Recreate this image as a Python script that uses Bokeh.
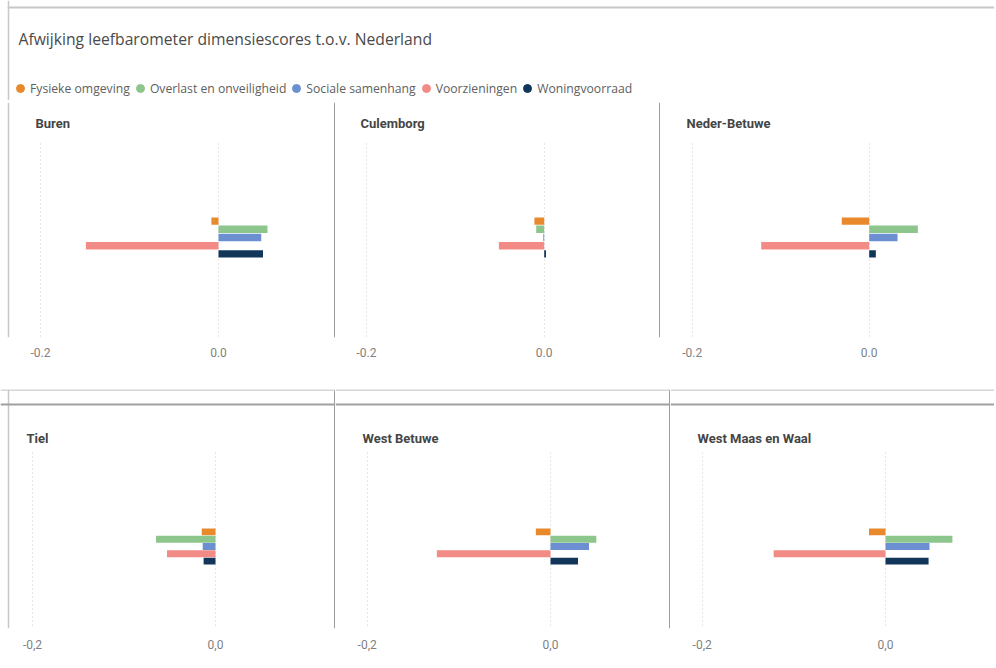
from bokeh.plotting import figure
from bokeh.models import (Range1d, FixedTicker, Span, Label, Legend, LegendItem,
                          ColumnDataSource, Grid, BoxAnnotation)
from bokeh.layouts import column, row
from bokeh.embed import file_html
from bokeh.resources import INLINE

# ---------------- data ----------------
TITLE = "Afwijking leefbarometer dimensiescores t.o.v. Nederland"
REGIONS = ["Buren", "Culemborg", "Neder-Betuwe", "Tiel", "West Betuwe", "West Maas en Waal"]
SERIES = ["Fysieke omgeving", "Overlast en onveiligheid", "Sociale samenhang",
          "Voorzieningen", "Woningvoorraad"]
COLORS = ["#E8892B", "#8DC68D", "#6B8FD1", "#F28B85", "#12365A"]

FYSIEKE_OMGEVING = [-0.008, -0.011, -0.031, -0.015, -0.016, -0.018]
OVERLAST_EN_ONVEILIGHEID = [0.055, -0.009, 0.055, -0.065, 0.050, 0.073]
SOCIALE_SAMENHANG = [0.048, -0.001, 0.032, -0.014, 0.042, 0.048]
VOORZIENINGEN = [-0.149, -0.051, -0.122, -0.053, -0.124, -0.122]
WONINGVOORRAAD = [0.050, 0.002, 0.0075, -0.013, 0.030, 0.047]
VALUES = [FYSIEKE_OMGEVING, OVERLAST_EN_ONVEILIGHEID, SOCIALE_SAMENHANG,
          VOORZIENINGEN, WONINGVOORRAAD]

TICKS = [-0.2, 0.0]
TICK_LABELS_TOP = ["-0.2", "0.0"]
TICK_LABELS_BOTTOM = ["-0,2", "0,0"]

# ---------------- styling ----------------
W = 994
HEADER_H = 100
BORDER = "#c8c8c8"
DIVIDER = "#3a3a3a"
PANEL_FONT = "Roboto"
MID = (len(SERIES) - 1) / 2.0
HAS_CROSS = "cross_bounds" in Grid.properties()


def make_panel(i, left, width, top, height, f_top, f_bot, m02, zero, center, u,
               bar_h, tick_labels, title_x, title_y, grid_top, standoff,
               divider_x=None, left_border=None, hlines=()):
    scale = (zero - m02) / 0.2
    xs = -(zero - left) / scale
    xe = xs + width / scale

    def xd(px):
        return xs + (px - left) / scale

    def yd(py):
        return MID + (py - center) / u

    p = figure(width=width, height=height, x_range=Range1d(xs, xe),
               y_range=Range1d(yd(f_bot), yd(f_top)),
               output_backend="svg", toolbar_location=None, y_axis_location=None,
               min_border_left=0, min_border_right=0,
               min_border_top=f_top - top, min_border_bottom=top + height - f_bot,
               outline_line_color=None, background_fill_color="white",
               border_fill_color="white")
    ticker = FixedTicker(ticks=TICKS)
    ax = p.xaxis[0]
    ax.ticker = ticker
    ax.major_label_overrides = dict(zip(TICKS, tick_labels))
    ax.axis_line_color = None
    ax.major_tick_line_color = None
    ax.minor_tick_line_color = None
    ax.major_label_standoff = standoff
    ax.major_label_text_font = PANEL_FONT
    ax.major_label_text_font_size = "12px"
    ax.major_label_text_color = "#7f7f7f"
    p.ygrid.visible = False
    g = p.xgrid[0]
    g.ticker = ticker
    g.grid_line_color = "#cfcfcf"
    g.grid_line_dash = "1 3"
    g.grid_line_width = 1
    if HAS_CROSS:
        g.cross_bounds = (min(yd(grid_top), yd(f_bot)), max(yd(grid_top), yd(f_bot)))

    src = ColumnDataSource(dict(
        y=list(range(len(SERIES))),
        right=[v[i] for v in VALUES],
        color=COLORS,
        series=SERIES,
    ))
    p.hbar(y="y", left=0, right="right", height=bar_h, fill_color="color",
           line_color=None, source=src)

    p.add_layout(Label(x=xd(title_x), y=yd(title_y), text=REGIONS[i],
                       text_font=PANEL_FONT, text_font_style="bold",
                       text_font_size="13px", text_color="#454545",
                       text_baseline="middle", text_align="left"))
    if divider_x is not None:
        p.add_layout(Span(location=xd(divider_x), dimension="height",
                          line_color=DIVIDER, line_width=1))
    if left_border is not None:
        p.add_layout(Span(location=xd(left_border), dimension="height",
                          line_color=BORDER, line_width=1.5))
    for (py, col, lw) in hlines:
        p.add_layout(Span(location=yd(py), dimension="width",
                          line_color=col, line_width=lw))
    return p


# ---------------- header ----------------
header = figure(width=W, height=HEADER_H, x_range=Range1d(0, W),
                y_range=Range1d(HEADER_H, 0), output_backend="svg",
                toolbar_location=None, x_axis_location=None, y_axis_location=None,
                min_border=0, outline_line_color=None,
                background_fill_color="white", border_fill_color="white")
header.xgrid.visible = False
header.ygrid.visible = False
header.add_layout(Label(x=18, y=38, text=TITLE, text_font="Open Sans",
                        text_font_size="15.7px", text_color="#4a4a4a",
                        text_baseline="middle"))
header.add_layout(BoxAnnotation(left=7.25, right=W, top=6, bottom=8, fill_color=BORDER,
                                fill_alpha=1, line_color=None))
header.add_layout(Span(location=8, dimension="height", line_color=BORDER, line_width=1.5))

items = []
for name, col in zip(SERIES, COLORS):
    r = header.scatter(x=[float("nan")], y=[float("nan")], marker="circle", size=8,
                       fill_color=col, line_color=col)
    items.append(LegendItem(label=name, renderers=[r]))
legend = Legend(items=items, orientation="horizontal", location=(10, 2),
                glyph_width=20, glyph_height=20, label_standoff=0, spacing=0,
                padding=0, margin=0, border_line_color=None,
                background_fill_alpha=0, label_text_font="Open Sans",
                label_text_font_size="12.2px", label_text_color="#606060",
                label_height=20)
header.add_layout(legend, "center")

# ---------------- panels ----------------
TOP = dict(top=100, height=289, f_top=102, f_bot=337, center=237, u=8.2, bar_h=0.9,
           tick_labels=TICK_LABELS_TOP, title_y=123, grid_top=143, standoff=4)
BOT = dict(top=389, height=277, f_top=389, f_bot=628, center=546, u=7.3, bar_h=0.95,
           tick_labels=TICK_LABELS_BOTTOM, title_y=438, grid_top=452, standoff=5)
SEP = [(389.6, BORDER, 1.5), (404, "#a0a0a0", 2)]

p1 = make_panel(0, 0, 335, m02=40, zero=218, title_x=35, divider_x=334.5, left_border=8, **TOP)
p2 = make_panel(1, 335, 325, m02=366, zero=543.7, title_x=360, divider_x=659.5, **TOP)
p3 = make_panel(2, 660, 334, m02=691.7, zero=868.7, title_x=686, **TOP)
p4 = make_panel(3, 0, 335, m02=32, zero=215, title_x=26, divider_x=334.5, left_border=8, hlines=SEP, **BOT)
p5 = make_panel(4, 335, 335, m02=366.7, zero=550, title_x=362, divider_x=669.5, hlines=SEP, **BOT)
p6 = make_panel(5, 670, 324, m02=701.7, zero=885, title_x=697, hlines=SEP, **BOT)

layout = column(header, row(p1, p2, p3), row(p4, p5, p6))
open("out.html", "w").write(file_html(layout, INLINE))
